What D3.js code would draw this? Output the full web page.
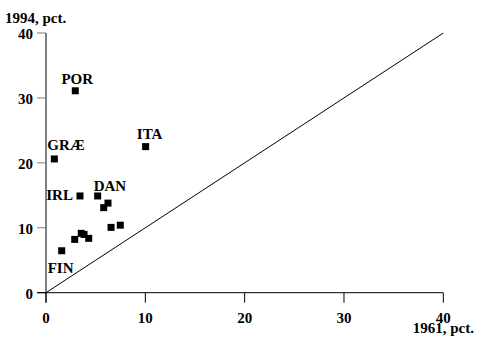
<!DOCTYPE html>
<html>
<head>
<meta charset="utf-8">
<script src="https://cdn.jsdelivr.net/npm/d3@7"></script>
<style>
  html, body { margin: 0; padding: 0; background: #fff; }
  svg { display: block; }
</style>
</head>
<body>
<svg id="chart" width="477" height="342"></svg>
<script>
// Share in 1961 (x) and 1994 (y), pct.
const x1961 = [2.95, 0.84, 10.03, 3.42, 5.2, 5.81, 6.24, 6.55, 7.48, 2.89, 3.55, 3.83, 4.30, 1.58];
const y1994 = [31.1, 20.6, 22.5, 14.9, 14.9, 13.1, 13.8, 10.06, 10.4, 8.21, 9.14, 8.98, 8.37, 6.46];
const pointLabels = ["POR", "GRÆ", "ITA", "IRL", "DAN", "", "", "", "", "", "", "", "", "FIN"];
const xTicks = [0, 10, 20, 30, 40];
const yTicks = [0, 10, 20, 30, 40];
const xTitle = "1961, pct.";
const yTitle = "1994, pct.";

// label placement relative to its marker: [dx, dy, anchor]
const labelPlacement = {
  "POR": [2, -7, "middle"],
  "GRÆ": [-7, -9, "start"],
  "ITA": [4, -8, "middle"],
  "IRL": [-7, 4, "end"],
  "DAN": [-4, -5, "start"],
  "FIN": [-14, 22, "start"]
};

const svg = d3.select("#chart")
  .style("font-family", "'Liberation Serif', 'Times New Roman', serif")
  .style("font-weight", "bold")
  .style("font-size", "15px");

const x = d3.scaleLinear().domain([0, 40]).range([46, 443.3]);
const y = d3.scaleLinear().domain([0, 40]).range([292.7, 33]);

// x axis: line extends left of origin, ticks point down
const xAxis = svg.append("g").attr("transform", `translate(0,${y(0)})`);
xAxis.append("line").attr("x1", x(0) - 9).attr("x2", x(40)).attr("stroke", "#000").attr("stroke-width", 1);
xAxis.selectAll("line.tick").data(xTicks).join("line")
  .attr("class", "tick")
  .attr("x1", d => x(d)).attr("x2", d => x(d))
  .attr("y1", 0).attr("y2", 10)
  .attr("stroke", "#000");
xAxis.selectAll("text").data(xTicks).join("text")
  .attr("x", d => x(d)).attr("y", 30)
  .attr("text-anchor", "middle")
  .text(d => d);

// y axis: line extends below origin, ticks point left
const yAxis = svg.append("g").attr("transform", `translate(${x(0)},0)`);
yAxis.append("line").attr("y1", y(0) + 10).attr("y2", y(40)).attr("stroke", "#000").attr("stroke-width", 1);
yAxis.selectAll("line.tick").data(yTicks).join("line")
  .attr("class", "tick")
  .attr("y1", d => y(d)).attr("y2", d => y(d))
  .attr("x1", -9).attr("x2", 0)
  .attr("stroke", d => d === 0 ? "#000" : "#777");
yAxis.selectAll("text").data(yTicks).join("text")
  .attr("x", -13).attr("y", d => y(d) + 6)
  .attr("text-anchor", "end")
  .text(d => d);

svg.append("text").attr("x", 5).attr("y", 23).text(yTitle);
svg.append("text").attr("x", 474).attr("y", 333).attr("text-anchor", "end").text(xTitle);

// 45-degree reference line
svg.append("line")
  .attr("x1", x(0)).attr("y1", y(0))
  .attr("x2", x(40)).attr("y2", y(40))
  .attr("stroke", "#000").attr("stroke-width", 1);

const pts = x1961.map((v, i) => ({ x: v, y: y1994[i], label: pointLabels[i] }));
const sq = 7;
svg.selectAll("rect.pt").data(pts).join("rect")
  .attr("class", "pt")
  .attr("x", d => x(d.x) - sq / 2).attr("y", d => y(d.y) - sq / 2)
  .attr("width", sq).attr("height", sq)
  .attr("fill", "#000");

svg.selectAll("text.lbl").data(pts.filter(d => d.label)).join("text")
  .attr("class", "lbl")
  .attr("x", d => x(d.x) + labelPlacement[d.label][0])
  .attr("y", d => y(d.y) + labelPlacement[d.label][1])
  .attr("text-anchor", d => labelPlacement[d.label][2])
  .text(d => d.label);
</script>
</body>
</html>
